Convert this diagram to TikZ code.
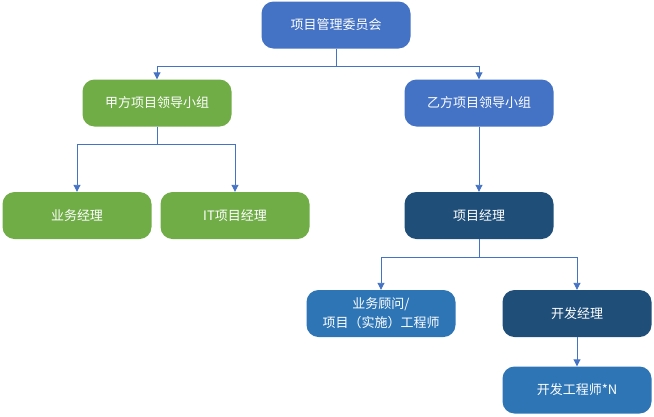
\documentclass[tikz,border=0pt]{standalone}
\usepackage{fontspec}
\newfontfamily\cjk{Noto Sans CJK SC}
\usetikzlibrary{arrows.meta}
\definecolor{cblue}{HTML}{4472C4}
\definecolor{cgreen}{HTML}{70AD47}
\definecolor{cdark}{HTML}{1F4E79}
\definecolor{cmid}{HTML}{2E75B6}
\definecolor{cline}{HTML}{4472C4}
\begin{document}
\begin{tikzpicture}[x=1pt,y=-1pt,
  box/.style={rounded corners=12pt, minimum width=149pt, minimum height=47pt, inner sep=0pt,
    text=white, font=\cjk\fontsize{13pt}{17pt}\selectfont, align=center},
  conn/.style={draw=cline, line width=0.9pt, -{Triangle[length=7pt,width=7pt]}}]
\useasboundingbox (0,0) rectangle (654,416);
\node[box, fill=cblue] (top) at (336,25) {项目管理委员会};
\node[box, fill=cgreen] (ja) at (157,103) {甲方项目领导小组};
\node[box, fill=cblue] (yi) at (479,103) {乙方项目领导小组};
\node[box, fill=cgreen] (yw) at (77,215.5) {业务经理};
\node[box, fill=cgreen] (it) at (235,215.5) {IT项目经理};
\node[box, fill=cdark] (pm) at (479,215.5) {项目经理};
\node[box, fill=cmid, font=\cjk\fontsize{13pt}{19pt}\selectfont] (gw) at (381,313.5) {业务顾问/\\项目（实施）工程师};
\node[box, fill=cdark] (dm) at (577,313.5) {开发经理};
\node[box, fill=cmid] (de) at (577,390) {开发工程师*N};
\coordinate (b1) at (336,66);
\draw[conn] (top.south) -- (b1) -| (ja.north);
\draw[conn] (b1) -| (yi.north);
\coordinate (b2) at (157,144);
\draw[conn] (ja.south) -- (b2) -| (yw.north);
\draw[conn] (b2) -| (it.north);
\draw[conn] (yi.south) -- (pm.north);
\coordinate (b3) at (479,257);
\draw[conn] (pm.south) -- (b3) -| (gw.north);
\draw[conn] (b3) -| (dm.north);
\draw[conn] (dm.south) -- (de.north);
\end{tikzpicture}
\end{document}
